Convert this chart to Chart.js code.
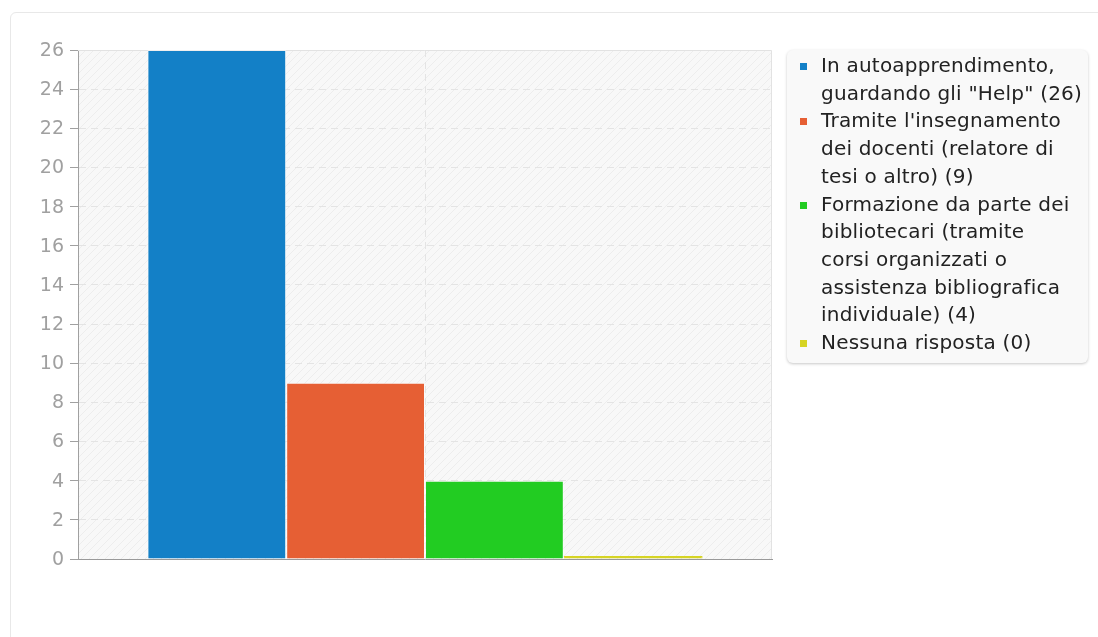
<!DOCTYPE html>
<html>
<head>
<meta charset="utf-8">
<script src="https://cdn.jsdelivr.net/npm/chart.js@4.4.1/dist/chart.umd.min.js"></script>
<style>
  html, body { margin: 0; padding: 0; background: #fff; overflow: hidden; }
  body { width: 1098px; height: 637px; position: relative; font-family: "DejaVu Sans", sans-serif; }
  .card { position: absolute; left: 10px; top: 12px; width: 1100px; height: 700px;
          border: 1px solid #e8e8e8; border-radius: 6px; box-sizing: border-box; }
  #chartWrap { position: absolute; left: 0; top: 0; width: 790px; height: 600px; }
  .legendBox { position: absolute; left: 787px; top: 50px; width: 301px; box-sizing: border-box;
               padding: 2px 8px 6px 13px; background: #f9f9f9; border-radius: 6px;
               box-shadow: 0 1px 3px rgba(0,0,0,0.22); }
  .legendItem { position: relative; padding-left: 21px; font-size: 20px; letter-spacing: 0.2px;
                line-height: 27.7px; color: #222; white-space: pre; }
  .legendColor { position: absolute; left: 0; top: 11px; width: 7px; height: 7px; }
</style>
</head>
<body>
<div class="card"></div>
<div id="chartWrap"><canvas id="chart" width="790" height="600"></canvas></div>
<div class="legendBox" id="legend"></div>
<script>
// dati del grafico (etichette su più righe come nella legenda originale)
var categories = [''];
var seriesNames = [
  ['In autoapprendimento,', 'guardando gli "Help"'],
  ["Tramite l'insegnamento", 'dei docenti (relatore di', 'tesi o altro)'],
  ['Formazione da parte dei', 'bibliotecari (tramite', 'corsi organizzati o', 'assistenza bibliografica', 'individuale)'],
  ['Nessuna risposta']
];
var seriesValues = [26, 9, 4, 0];
var seriesColors = ['#1380c7', '#e65f34', '#22cc22', '#d6d424'];
var seriesBorders = ['rgba(255,255,255,0.45)', 'rgba(255,255,255,0.45)', 'rgba(255,255,255,0.45)', '#d6d424'];
var yTicks = [0, 2, 4, 6, 8, 10, 12, 14, 16, 18, 20, 22, 24, 26];

var datasets = [];
for (var i = 0; i < seriesNames.length; i++) {
  datasets.push({
    label: seriesNames[i].join('\n') + ' (' + seriesValues[i] + ')',
    data: [seriesValues[i]],
    backgroundColor: seriesColors[i],
    borderColor: seriesBorders[i],
    borderWidth: 1,
    minBarLength: 3
  });
}

// sfondo tratteggiato dell'area del grafico
function makeHatch() {
  var c = document.createElement('canvas');
  c.width = 8; c.height = 8;
  var ctx = c.getContext('2d');
  ctx.fillStyle = '#f8f8f8';
  ctx.fillRect(0, 0, 8, 8);
  ctx.strokeStyle = '#ededed';
  ctx.lineWidth = 1;
  ctx.beginPath();
  ctx.moveTo(0, 8); ctx.lineTo(8, 0);
  ctx.moveTo(-1, 1); ctx.lineTo(1, -1);
  ctx.moveTo(7, 9); ctx.lineTo(9, 7);
  ctx.stroke();
  return c;
}

var areaPlugin = {
  id: 'areaBg',
  beforeDraw: function(chart) {
    var a = chart.chartArea, ctx = chart.ctx;
    ctx.save();
    ctx.fillStyle = ctx.createPattern(makeHatch(), 'repeat');
    ctx.fillRect(a.left, a.top, a.right - a.left, a.bottom - a.top);
    ctx.restore();
  },
  beforeDatasetsDraw: function(chart) {
    var a = chart.chartArea, ctx = chart.ctx;
    ctx.save();
    ctx.strokeStyle = '#e2e2e2';
    ctx.lineWidth = 1;
    ctx.beginPath();
    ctx.moveTo(a.left, a.top + 0.5); ctx.lineTo(a.right - 0.5, a.top + 0.5); ctx.lineTo(a.right - 0.5, a.bottom);
    ctx.stroke();
    ctx.restore();
  }
};

var chart = new Chart(document.getElementById('chart'), {
  type: 'bar',
  data: { labels: categories, datasets: datasets },
  options: {
    responsive: false,
    animation: false,
    layout: { padding: { left: 18, top: 50, right: 18, bottom: 41 } },
    datasets: { bar: { categoryPercentage: 0.8, barPercentage: 1 } },
    plugins: { legend: { display: false }, tooltip: { enabled: false } },
    scales: {
      x: {
        grid: { display: true, offset: false, drawTicks: false, color: '#e4e4e4' },
        border: { display: true, color: '#999', width: 1, dash: [7, 5] },
        ticks: { display: false }
      },
      y: {
        min: 0,
        max: 26,
        afterFit: function(scale) { scale.width = 60; },
        afterBuildTicks: function(scale) {
          scale.ticks = yTicks.map(function(v) { return { value: v }; });
        },
        grid: { color: '#e4e4e4', tickLength: 8, tickColor: '#a0a0a0', tickBorderDash: [] },
        border: { display: true, color: '#a0a0a0', width: 1, dash: [7, 5] },
        ticks: { padding: 6, labelOffset: 1, color: '#a0a0a0', font: { family: 'DejaVu Sans', size: 19 } }
      }
    }
  },
  plugins: [areaPlugin]
});

// legenda HTML
var legendNode = document.getElementById('legend');
for (var j = 0; j < chart.data.datasets.length; j++) {
  var ds = chart.data.datasets[j];
  var item = document.createElement('div');
  item.className = 'legendItem';
  var sw = document.createElement('span');
  sw.className = 'legendColor';
  sw.style.backgroundColor = ds.backgroundColor;
  item.appendChild(sw);
  item.appendChild(document.createTextNode(ds.label));
  legendNode.appendChild(item);
}
</script>
</body>
</html>
